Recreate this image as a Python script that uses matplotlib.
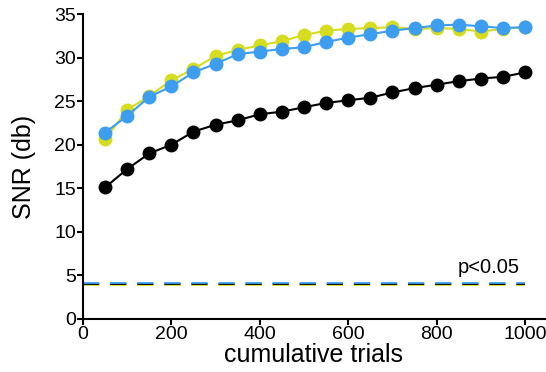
import numpy as np
import matplotlib.pyplot as plt

plt.rcParams['font.family'] = ['Liberation Sans', 'DejaVu Sans']

# cumulative trial counts
trials = np.arange(50, 1001, 50)

# SNR (db) per condition
snr_black = [15.1, 17.2, 19.0, 20.0, 21.5, 22.3, 22.8, 23.5, 23.8, 24.3,
             24.8, 25.1, 25.4, 26.0, 26.5, 26.9, 27.3, 27.6, 27.8, 28.3]
snr_yellow = [20.6, 24.0, 25.6, 27.4, 28.7, 30.2, 30.9, 31.4, 31.9, 32.6,
              33.1, 33.3, 33.4, 33.5, 33.3, 33.4, 33.3, 33.0, 33.3, 33.5]
snr_blue = [21.4, 23.3, 25.5, 26.7, 28.3, 29.3, 30.4, 30.7, 31.0, 31.2,
            31.8, 32.3, 32.7, 33.1, 33.4, 33.7, 33.8, 33.6, 33.4, 33.5]

# significance threshold (p<0.05)
thresh = 4.0

YELLOW = '#d6dc1e'
BLUE = '#3d9ef0'

fig = plt.figure(figsize=(5.46, 3.72), dpi=100)
ax = fig.add_axes([0.152, 0.143, 0.846, 0.819])

ms = 9
ax.plot(trials, snr_black, '-o', color='black', lw=1.5, ms=ms, zorder=3)
ax.plot(trials, snr_yellow, '-o', color=YELLOW, lw=1.5, ms=ms, zorder=4)
ax.plot(trials, snr_blue, '-o', color=BLUE, lw=1.5, ms=ms, zorder=5)

# threshold lines, stacked slightly
dash = (0, (9, 6))
ax.plot([0, 1000], [thresh - 0.13] * 2, color=YELLOW, lw=1.3, ls=dash)
ax.plot([0, 1000], [thresh] * 2, color='black', lw=1.3, ls=dash)
ax.plot([0, 1000], [thresh + 0.13] * 2, color=BLUE, lw=1.3, ls=dash)
ax.text(917, 5.3, 'p<0.05', ha='center', va='baseline', fontsize=14.5)

ax.set_xlim(0, 1045)
ax.set_ylim(0, 35)
ax.set_xticks([0, 200, 400, 600, 800, 1000])
ax.set_yticks(np.arange(0, 36, 5))
ax.set_xlabel('cumulative trials', fontsize=18, labelpad=0)
ax.set_ylabel('SNR (db)', fontsize=18, labelpad=13)

for side in ['top', 'right']:
    ax.spines[side].set_visible(False)
for side in ['left', 'bottom']:
    ax.spines[side].set_linewidth(1.5)
ax.tick_params(labelsize=14, width=1.5, length=4, pad=1)

# partial panel label, cut by the image edge
fig.text(-0.015, 0.025, ')', fontsize=18)

fig.savefig('out.png', dpi=100)
